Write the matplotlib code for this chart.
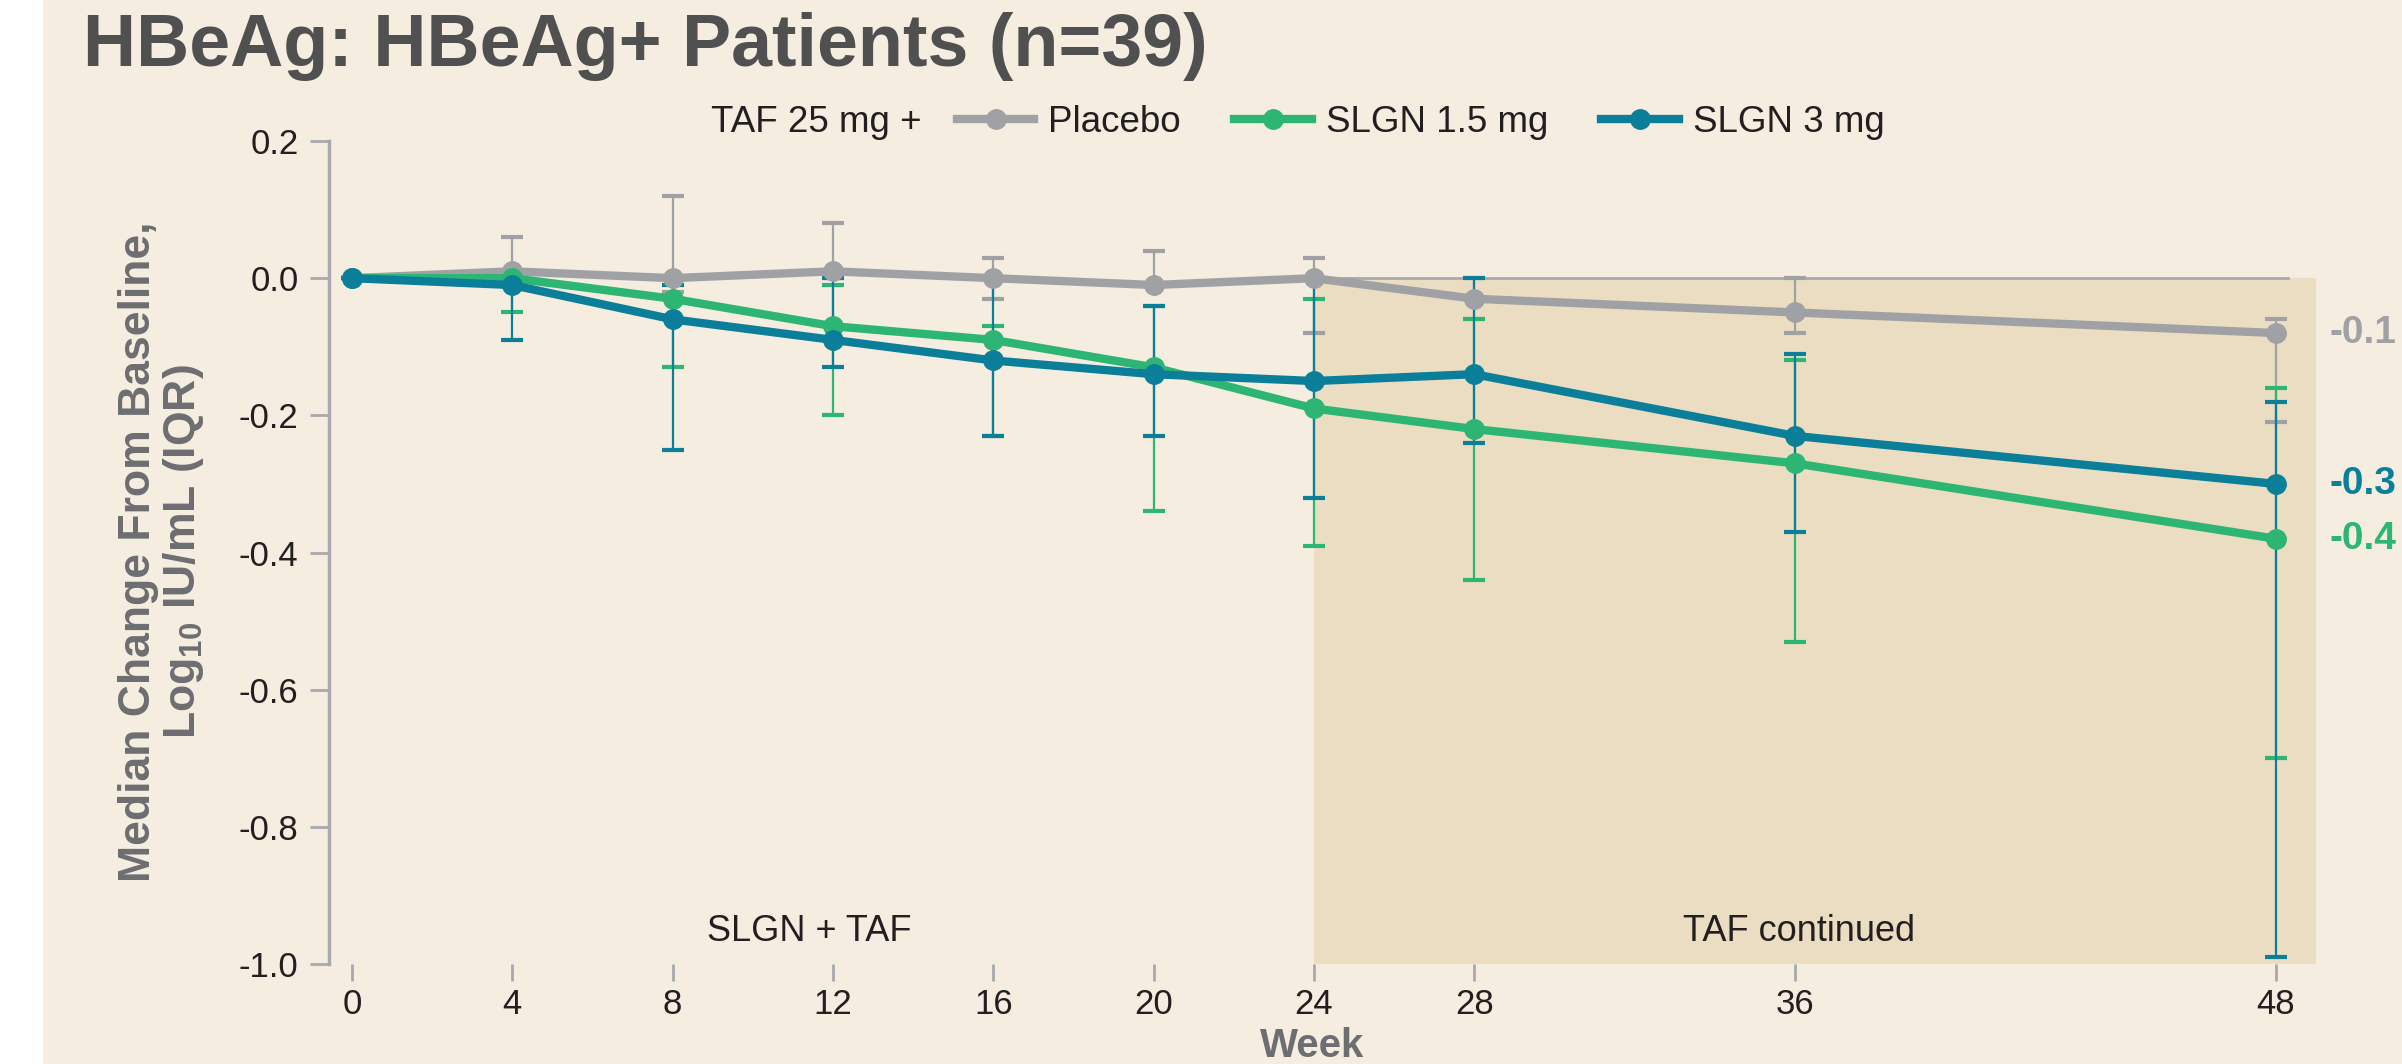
import matplotlib
matplotlib.use("Agg")
import matplotlib.pyplot as plt
from matplotlib.lines import Line2D
from matplotlib.patches import Rectangle

plt.rcParams['font.family'] = ['Liberation Sans', 'DejaVu Sans']
plt.rcParams['mathtext.fontset'] = 'custom'
plt.rcParams['mathtext.rm'] = 'Liberation Sans'
plt.rcParams['mathtext.it'] = 'Liberation Sans:italic'
plt.rcParams['mathtext.bf'] = 'Liberation Sans:bold'

weeks = [0, 4, 8, 12, 16, 20, 24, 28, 36, 48]
xtick_labels = ["0", "4", "8", "12", "16", "20", "24", "28", "36", "48"]

placebo = [0.0, 0.01, 0.0, 0.01, 0.0, -0.01, 0.0, -0.03, -0.05, -0.08]
placebo_q1 = [0.0, 0.0, -0.02, 0.0, -0.03, -0.01, -0.08, -0.06, -0.08, -0.21]
placebo_q3 = [0.0, 0.06, 0.12, 0.08, 0.03, 0.04, 0.03, 0.0, 0.0, -0.06]

slgn15 = [0.0, 0.0, -0.03, -0.07, -0.09, -0.13, -0.19, -0.22, -0.27, -0.38]
slgn15_q1 = [0.0, -0.05, -0.13, -0.20, -0.23, -0.34, -0.39, -0.44, -0.53, -0.70]
slgn15_q3 = [0.0, 0.0, 0.0, -0.01, -0.07, -0.04, -0.03, -0.06, -0.12, -0.16]

slgn3 = [0.0, -0.01, -0.06, -0.09, -0.12, -0.14, -0.15, -0.14, -0.23, -0.30]
slgn3_q1 = [0.0, -0.09, -0.25, -0.13, -0.23, -0.23, -0.32, -0.24, -0.37, -0.99]
slgn3_q3 = [0.0, 0.0, -0.01, 0.0, 0.0, -0.04, 0.0, 0.0, -0.11, -0.18]

series_names = ["Placebo", "SLGN 1.5 mg", "SLGN 3 mg"]
end_labels = ["-0.1", "-0.4", "-0.3"]

GRAY = "#A0A1A5"
GREEN = "#2DB573"
TEAL = "#0B7F99"
BG = "#F5EDE0"
SHADE = "#EBDDC2"
AXGRAY = "#A7A9AC"
LABGRAY = "#6D6E71"
TXT = "#231F20"

W, H = 2402, 1064
fig = plt.figure(figsize=(W / 100, H / 100), dpi=100, facecolor="white")
fig.patches.append(Rectangle((43 / W, 0), 1, 1, transform=fig.transFigure,
                             facecolor=BG, edgecolor="none", zorder=-10))

ax = fig.add_axes([329 / W, 1 - 964 / H, (2316 - 329) / W, (964 - 141) / H])
ax.set_facecolor("none")
ax.set_xlim(-0.57, 49.0)
ax.set_ylim(-1.0, 0.2)

# shaded maintenance period
ax.fill_between([24, 49], -1.0, 0.0, color=SHADE, zorder=0, linewidth=0)
ax.plot([24, 48.3], [0, 0], color=AXGRAY, lw=2, zorder=1)

series = [
    (placebo, placebo_q1, placebo_q3, GRAY),
    (slgn15, slgn15_q1, slgn15_q3, GREEN),
    (slgn3, slgn3_q1, slgn3_q3, TEAL),
]
for i, (med, q1, q3, col) in enumerate(series):
    lower = [m - a for m, a in zip(med, q1)]
    upper = [b - m for m, b in zip(med, q3)]
    ax.errorbar(weeks, med, yerr=[lower, upper], fmt="none", ecolor=col,
                elinewidth=1.6, capsize=8, capthick=3, zorder=2 + i, clip_on=False)
for i, (med, q1, q3, col) in enumerate(series):
    ax.plot(weeks, med, color=col, lw=6, marker="o", markersize=14,
            zorder=6 + i, clip_on=False, solid_capstyle="round")

# end labels
label_vals = [placebo[-1], slgn15[-1], slgn3[-1]]
label_cols = [GRAY, GREEN, TEAL]
for val, txt, col in zip(label_vals, end_labels, label_cols):
    ax.text(49.33, val, txt, color=col, fontsize=28, fontweight="bold",
            ha="left", va="center", clip_on=False)

# period annotations
ax.text(11.4, -0.953, "SLGN + TAF", fontsize=26, color=TXT, ha="center", va="center")
ax.text(36.1, -0.953, "TAF continued", fontsize=26, color=TXT, ha="center", va="center")

# axes styling
for s in ["top", "right", "bottom"]:
    ax.spines[s].set_visible(False)
ax.spines["left"].set_color(AXGRAY)
ax.spines["left"].set_linewidth(2.5)
ax.spines["left"].set_bounds(-1.0, 0.2)

ax.set_xticks(weeks)
ax.set_xticklabels(xtick_labels)
yt = [0.2, 0.0, -0.2, -0.4, -0.6, -0.8, -1.0]
ax.set_yticks(yt)
ax.set_yticklabels([f"{v:.1f}" for v in yt])
ax.tick_params(axis="both", colors=AXGRAY, labelcolor=TXT, labelsize=25,
               width=2, direction="out")
ax.tick_params(axis="y", length=14, pad=8)
ax.tick_params(axis="x", length=12, pad=5)

fig.text(1312 / W, 1 - 1046 / H, "Week", fontsize=29, fontweight="bold",
         color=LABGRAY, ha="center", va="center")
fig.text(162 / W, 1 - 552 / H,
         "Median Change From Baseline,\nLog$_{\\mathbf{10}}$ IU/mL (IQR)",
         fontsize=32, fontweight="bold", color=LABGRAY, rotation=90,
         ha="center", va="center", multialignment="center", linespacing=1.05)

# title
fig.text(83 / W, 1 - 66 / H, "HBeAg: HBeAg+ Patients (n=39)", fontsize=53,
         fontweight="bold", color="#505050", ha="left", va="baseline")

# legend
fig.text(711 / W, 1 - 122 / H, "TAF 25 mg +", fontsize=26.5, color=TXT,
         ha="left", va="center")
handles = [Line2D([], [], color=c, lw=6, marker="o", markersize=14) for c in [GRAY, GREEN, TEAL]]
leg = fig.legend(handles, series_names, loc="center left",
                 bbox_to_anchor=(957 / W, 1 - 122 / H), ncol=3, frameon=False,
                 fontsize=26.5, handlelength=2.1, handletextpad=0.38, columnspacing=1.45,
                 borderpad=0, borderaxespad=0)
for t in leg.get_texts():
    t.set_color(TXT)

fig.savefig("out.png", dpi=100, facecolor="white")
